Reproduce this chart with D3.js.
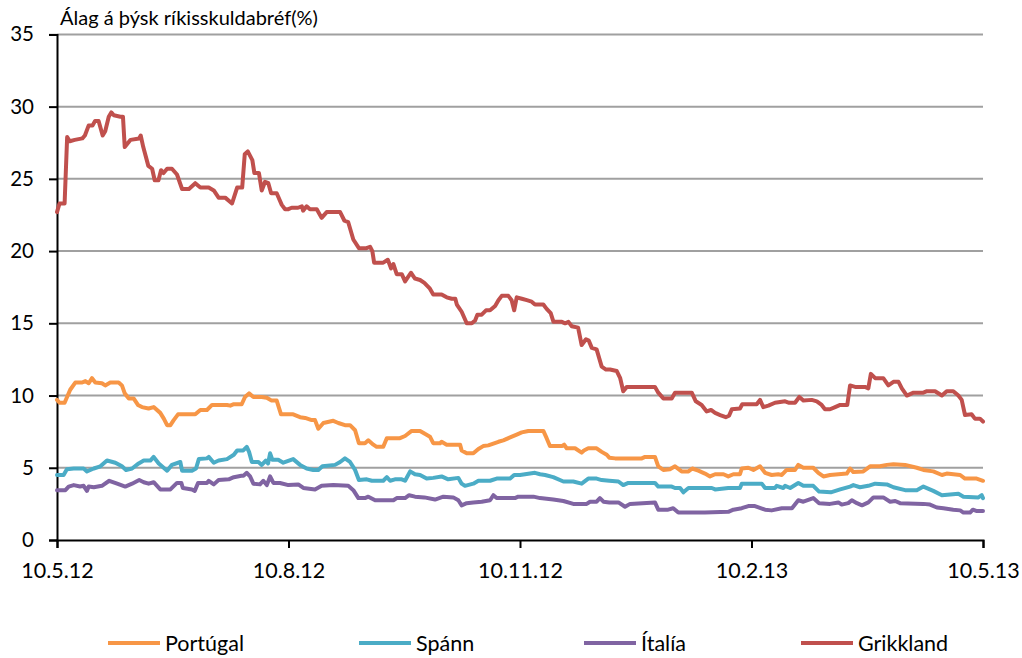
<!DOCTYPE html>
<html>
<head>
<meta charset="utf-8">
<script src="https://cdn.jsdelivr.net/npm/d3@7"></script>
<style>
  html, body { margin: 0; padding: 0; background: #fff; }
  svg { display: block; font-family: Lato, "Open Sans", sans-serif; }
</style>
</head>
<body>
<svg id="chart" width="1022" height="658"></svg>
<script>
// ---- data (x = days since 10.5.12, y = spread %) ----
const title = "Álag á þýsk ríkisskuldabréf(%)";
const seriesNames = ["Portúgal", "Spánn", "Ítalía", "Grikkland"];
const tickPos = [0, 91.25, 182.5, 273.75, 365];
const tickLabels = ["10.5.12", "10.8.12", "10.11.12", "10.2.13", "10.5.13"];
const yTicks = [0, 5, 10, 15, 20, 25, 30, 35];

const portugal = [[0,9.7],[1,9.5],[3,9.5],[5.2,10.4],[7.2,10.9],[9.9,10.9],[11.2,11.0],[12.5,10.85],[13.8,11.2],[15.1,10.9],[17.7,10.85],[19,10.7],[21,10.9],[24.3,10.9],[25.6,10.7],[26.7,10.15],[28.3,9.8],[30.2,9.8],[31.9,9.35],[33.5,9.2],[36.1,9.1],[38.1,9.2],[40.7,8.8],[42.1,8.4],[43.4,7.95],[44.7,7.95],[46,8.3],[47.7,8.7],[54.5,8.7],[56.5,9.0],[59.1,9.0],[61.1,9.35],[67,9.35],[68.3,9.3],[69.7,9.4],[72.8,9.4],[74.1,9.9],[75.7,10.15],[77.4,9.9],[80.7,9.9],[82.7,9.85],[84.6,9.65],[86.6,9.65],[88.3,8.7],[93.1,8.7],[95.8,8.5],[97.8,8.45],[100.4,8.3],[101.7,8.3],[103,7.7],[105,8.1],[107.6,8.2],[108.9,8.25],[110.9,8.1],[113.5,7.95],[115.5,7.95],[117.5,7.6],[119,6.7],[121.4,6.7],[122.7,6.9],[124.7,6.6],[126,6.45],[128.6,6.45],[130,7.05],[135.2,7.05],[137.2,7.2],[139.8,7.55],[143.1,7.55],[145,7.35],[147,7.15],[148.3,6.7],[151,6.7],[151.6,6.8],[153.6,6.6],[158.9,6.6],[159.5,6.2],[161.5,6.0],[164.1,6.0],[166.1,6.3],[168,6.5],[170,6.55],[174,6.8],[175.9,6.9],[178.6,7.1],[181.2,7.3],[183.2,7.45],[185.8,7.55],[191.7,7.55],[193,7.05],[194.3,6.5],[199,6.5],[199.9,6.6],[200.9,6.35],[204.2,6.35],[206.8,6.05],[207.7,6.2],[209.4,6.35],[212.7,6.35],[214.7,6.1],[216.7,5.9],[217.7,5.7],[220,5.65],[230.5,5.65],[231.8,5.75],[235.7,5.75],[237,5.1],[239,4.85],[241.6,4.9],[243.6,5.1],[246.2,4.75],[248.9,4.75],[250.4,4.95],[252.8,4.8],[255.4,4.6],[257.4,4.4],[259.4,4.55],[262.7,4.55],[264.6,4.4],[266.6,4.55],[269.2,4.55],[269.9,4.95],[272.5,5.0],[274.5,4.85],[277.1,5.1],[279.1,4.65],[281.7,4.5],[284.3,4.55],[285.7,4.5],[287.6,4.85],[290.9,4.85],[292.2,5.2],[294.2,5.0],[298.1,5.0],[300.1,4.65],[302.1,4.4],[304.7,4.5],[311.3,4.6],[312.6,4.95],[313.9,4.7],[317.8,4.75],[320.5,5.1],[324.4,5.1],[327.1,5.2],[329.7,5.25],[334.3,5.2],[338.9,5.0],[341.5,4.85],[345.4,4.75],[348.8,4.5],[350.7,4.6],[356,4.5],[357.9,4.25],[362.5,4.25],[365,4.1]];

const spain = [[0,4.5],[2.6,4.5],[3.9,4.9],[6.6,4.95],[10.5,4.95],[11.8,4.75],[14.5,4.95],[17.1,5.1],[19.7,5.5],[23,5.35],[25.6,5.1],[27.2,4.85],[29.6,4.95],[32.2,5.3],[34.2,5.5],[36.8,5.5],[38.1,5.75],[40.1,5.3],[43.4,4.8],[45.3,5.2],[48.6,5.4],[49.3,4.8],[53.2,4.8],[54.8,4.95],[55.9,5.6],[59.1,5.65],[59.8,5.75],[61.8,5.35],[63.7,5.5],[67,5.6],[69.7,5.9],[71,6.2],[73.4,6.2],[74.8,6.45],[75.7,6.1],[76.8,5.4],[79.4,5.4],[80.7,5.2],[82.3,5.5],[83.2,5.3],[84,6.0],[84.9,5.55],[87.2,5.55],[89.2,5.35],[93.1,5.6],[95.8,5.2],[98.4,4.95],[101,4.85],[103,4.85],[104.6,5.1],[109.6,5.2],[111.6,5.4],[113.5,5.65],[115.5,5.4],[117.5,4.85],[119,4.15],[122.1,4.2],[124.1,4.1],[128.6,4.1],[130,4.35],[131.3,4.1],[133.2,4.2],[135.9,4.2],[137.2,4.1],[139.2,4.75],[141.1,4.55],[143.1,4.5],[145.7,4.25],[148.3,4.3],[151.6,4.4],[154.2,4.2],[158.2,4.3],[159.5,3.9],[160.8,3.75],[164.1,3.9],[166.1,4.1],[170.7,4.1],[173.3,4.25],[178.6,4.25],[180.2,4.5],[182.5,4.5],[188.4,4.65],[190.4,4.55],[192.4,4.5],[195.6,4.35],[199.6,4.05],[203.5,4.05],[206.8,3.9],[209.4,4.25],[212.7,4.25],[214.7,4.15],[217.7,4.1],[221.3,4.05],[223.2,3.8],[225.2,3.95],[235.7,3.95],[237,3.7],[242.3,3.7],[243.6,3.6],[245.6,3.6],[246.9,3.3],[248.9,3.6],[258.1,3.6],[259.4,3.5],[264.6,3.6],[269.2,3.6],[269.9,3.9],[277.8,3.9],[279.1,3.6],[283,3.6],[283.7,3.75],[286.3,3.6],[287,3.75],[289,3.6],[292.2,3.95],[294.2,3.75],[298.1,3.75],[300.4,3.35],[305,3.3],[308.7,3.5],[312.6,3.7],[313.9,3.8],[316.5,3.65],[319.8,3.75],[322.5,3.9],[327.1,3.85],[329.7,3.65],[334.3,3.45],[338.9,3.45],[341.5,3.7],[345.4,3.4],[348.8,3.1],[355.3,3.2],[357.3,3.0],[363.2,2.95],[364.5,3.1],[365,2.9]];

const italy = [[0,3.45],[3.3,3.45],[4.6,3.7],[6.6,3.8],[9.1,3.7],[10.5,3.75],[11.8,3.4],[12.5,3.7],[14.5,3.65],[17.7,3.75],[20.6,4.1],[23.7,3.9],[26.9,3.7],[29.6,3.9],[32.4,4.15],[34.2,4.0],[36.1,3.9],[38.1,4.0],[40.7,3.5],[44.7,3.5],[47.3,3.95],[49,3.95],[49.6,3.6],[53.2,3.5],[54.3,3.4],[55.6,3.95],[59.1,3.95],[59.8,4.1],[61.8,3.85],[63.7,4.15],[67.7,4.2],[69.7,4.35],[72.7,4.45],[73.5,4.45],[74.8,4.65],[76.1,4.4],[77.4,3.9],[80,3.85],[81.3,4.1],[82.7,3.8],[84,4.4],[85.3,3.95],[87.9,3.95],[91.2,3.8],[95.1,3.85],[97.1,3.6],[101.7,3.5],[104.3,3.75],[108.9,3.8],[114.8,3.75],[116.8,3.45],[118.8,2.9],[121.4,2.9],[122.7,3.0],[125.4,2.75],[132.6,2.75],[133.9,2.9],[137.2,2.9],[138.8,3.1],[141.1,3.0],[144.8,2.95],[149,2.8],[152.3,3.0],[156.2,2.95],[158.2,2.75],[159.5,2.4],[161.5,2.55],[164.1,2.6],[167.4,2.65],[170.7,2.75],[172,3.1],[173.3,2.9],[180.5,2.9],[181.8,3.0],[187.8,3.0],[190.4,2.9],[195.6,2.8],[199.6,2.7],[203.5,2.5],[208.8,2.5],[210.1,2.65],[212.7,2.65],[214,2.9],[215.4,2.65],[217.7,2.6],[221.3,2.6],[223.9,2.3],[225.9,2.5],[235.7,2.6],[237,2.1],[240.9,2.1],[242.9,2.2],[244.9,1.9],[255.4,1.9],[264.6,1.95],[266.6,2.1],[269.9,2.2],[272.5,2.35],[275.1,2.35],[279.1,2.1],[281.7,2.05],[285.7,2.2],[289.7,2.2],[292.2,2.75],[294.2,2.65],[298.1,2.9],[299.4,2.7],[300.4,2.55],[304.7,2.5],[308,2.6],[309.3,2.45],[311.9,2.55],[313.3,2.75],[315.3,2.55],[317.3,2.4],[319.8,2.6],[321.8,2.95],[325.7,2.95],[328.4,2.65],[330.4,2.7],[332.3,2.55],[341.5,2.5],[344.1,2.45],[346.8,2.25],[349.4,2.2],[353.3,2.1],[356,2.05],[357.3,1.9],[359.9,1.9],[361,2.1],[362.6,2.0],[365,2.0]];

const greece = [[0,22.7],[1,23.3],[3,23.3],[4,27.9],[5,27.6],[7,27.7],[10,27.8],[11,28.0],[12.5,28.7],[14,28.7],[15,29.0],[16.4,29.0],[18,28.0],[19,28.3],[20.4,29.3],[21.4,29.6],[22.4,29.4],[25,29.3],[26,29.3],[26.7,27.2],[29,27.7],[32.4,27.8],[33,28.0],[34,27.2],[36,25.9],[37.5,25.7],[38.5,24.9],[40,24.9],[41,25.6],[42,25.4],[43.4,25.7],[45.3,25.7],[47.3,25.3],[49.3,24.3],[52,24.3],[54.5,24.7],[56.5,24.4],[59.8,24.4],[61.8,24.2],[63.7,23.7],[66.3,23.7],[69,23.3],[71,24.4],[73,24.4],[74,26.7],[75.2,26.9],[77,26.3],[77.8,25.4],[79.6,25.4],[80.7,24.2],[82,24.8],[83.3,24.7],[84.4,24.0],[86.6,24.0],[88.6,23.2],[89.9,22.9],[91.2,22.9],[92.5,23.0],[95,23.0],[96.5,23.1],[97,22.8],[98.4,23.1],[99.7,22.9],[102.4,22.9],[104.3,22.3],[106.3,22.7],[111.6,22.7],[113.3,22.1],[114.8,22.0],[116.8,20.8],[119,20.2],[122,20.2],[123.4,20.3],[124.3,20.0],[125,19.2],[128.6,19.2],[130.4,19.4],[131.7,18.8],[132.6,19.1],[133.9,18.4],[135.9,18.4],[137.2,17.9],[139.5,18.5],[141.1,18.1],[143.1,18.0],[144.8,17.8],[147,17.4],[148.3,17.0],[151.6,17.0],[153.6,16.8],[155.6,16.7],[157,16.7],[157.6,16.3],[159.5,15.8],[161.5,15.0],[163.5,15.0],[164.8,15.2],[165.7,15.6],[167.4,15.6],[169.1,15.9],[170.7,15.9],[172.7,16.2],[174,16.6],[175.3,16.9],[177.9,16.9],[179.2,16.6],[180.2,15.9],[181.2,16.8],[183.2,16.7],[185.2,16.6],[187.1,16.5],[188.4,16.3],[191.7,16.3],[193,16.0],[194.6,15.7],[195.7,15.1],[199,15.1],[200.3,15.0],[201.6,15.1],[202.9,14.8],[205.4,14.7],[206.8,13.5],[208.5,13.9],[209.6,13.8],[210.8,13.3],[212.7,13.2],[214.7,12.0],[216.4,11.8],[218,11.8],[220.6,11.7],[222,11.2],[223.2,10.3],[224.6,10.6],[235.7,10.6],[237,10.2],[239,9.8],[242.3,9.8],[243.6,10.2],[250.2,10.2],[251.8,9.6],[254.1,9.35],[256.1,8.9],[257.8,9.0],[259.4,8.8],[261.4,8.65],[263.6,8.5],[264.9,8.6],[266,9.05],[269.2,9.1],[270.1,9.4],[275.8,9.4],[277.1,9.7],[278.4,9.2],[280.4,9.3],[283,9.5],[287,9.6],[288.6,9.5],[290.9,9.5],[292.6,9.9],[294.2,9.65],[297.5,9.7],[299.5,9.6],[301.4,9.35],[302.7,9.05],[304.7,9.05],[306.7,9.2],[308.7,9.35],[311.5,9.35],[312.6,10.7],[314.6,10.6],[318.5,10.6],[319.8,10.5],[320.8,11.5],[322.5,11.2],[325.7,11.2],[327.7,10.7],[329.7,10.95],[331.7,10.95],[333,10.5],[335,10.0],[337.6,10.2],[341.5,10.2],[342.9,10.3],[346.1,10.3],[348.8,10.0],[350.7,10.3],[353.3,10.3],[355.3,10.0],[356.6,9.7],[357.9,8.65],[360.5,8.7],[361.8,8.4],[363.8,8.4],[365,8.2]];

const seriesData = [portugal, spain, italy, greece];
const colors = ["#F79646", "#4BACC6", "#8064A2", "#C0504D"];

// ---- layout ----
const plot = { left: 57, right: 983, top: 34.4, bottom: 540 };
const legendX = [108, 359, 584, 801];
const legendY = 643;

const svg = d3.select("#chart");
const x = d3.scaleLinear().domain([0, 365]).range([plot.left, plot.right]);
const y = d3.scaleLinear().domain([0, 35]).range([plot.bottom, plot.top]);

// gridlines
svg.append("g")
  .selectAll("line")
  .data(yTicks.filter(d => d > 0))
  .join("line")
  .attr("x1", plot.left).attr("x2", plot.right)
  .attr("y1", d => y(d)).attr("y2", d => y(d))
  .attr("stroke", "#a0a0a0").attr("stroke-width", 2);

// y axis
const yAxis = svg.append("g")
  .attr("transform", `translate(${plot.left},0)`)
  .call(d3.axisLeft(y).tickValues(yTicks).tickSize(8).tickPadding(15).tickFormat(d3.format("d")));
yAxis.select(".domain").attr("stroke", "#000").attr("stroke-width", 2);
yAxis.selectAll(".tick line").attr("stroke", "#000").attr("stroke-width", 2);
yAxis.selectAll(".tick text").attr("font-size", 20.5).attr("font-family", "Lato").attr("fill", "#000");

// x axis
const xAxis = svg.append("g")
  .attr("transform", `translate(0,${plot.bottom})`)
  .call(d3.axisBottom(x).tickValues(tickPos).tickSize(8).tickPadding(15)
    .tickFormat((d, i) => tickLabels[i]));
xAxis.select(".domain").attr("stroke", "#000").attr("stroke-width", 2);
xAxis.selectAll(".tick line").attr("stroke", "#000").attr("stroke-width", 2);
xAxis.selectAll(".tick text").attr("font-size", 21.5).attr("font-family", "Lato").attr("fill", "#000");

// lines
const line = d3.line().x(d => x(d[0])).y(d => y(d[1]));
svg.append("g")
  .selectAll("path")
  .data(seriesData)
  .join("path")
  .attr("d", line)
  .attr("fill", "none")
  .attr("stroke", (d, i) => colors[i])
  .attr("stroke-width", 4)
  .attr("stroke-linejoin", "round")
  .attr("stroke-linecap", "round");

// title
svg.append("text")
  .attr("x", 60).attr("y", 25)
  .attr("font-size", 20).attr("font-family", "Lato").attr("fill", "#000")
  .text(title);

// legend
const lg = svg.append("g").selectAll("g")
  .data(seriesNames)
  .join("g")
  .attr("transform", (d, i) => `translate(${legendX[i]},${legendY})`);
lg.append("line")
  .attr("x1", 0).attr("x2", 52).attr("y1", 0).attr("y2", 0)
  .attr("stroke", (d, i) => colors[i]).attr("stroke-width", 4);
lg.append("text")
  .attr("x", 57).attr("y", 0).attr("dy", "0.35em")
  .attr("font-size", 21.5).attr("font-family", "Lato").attr("fill", "#000")
  .text(d => d);
</script>
</body>
</html>
